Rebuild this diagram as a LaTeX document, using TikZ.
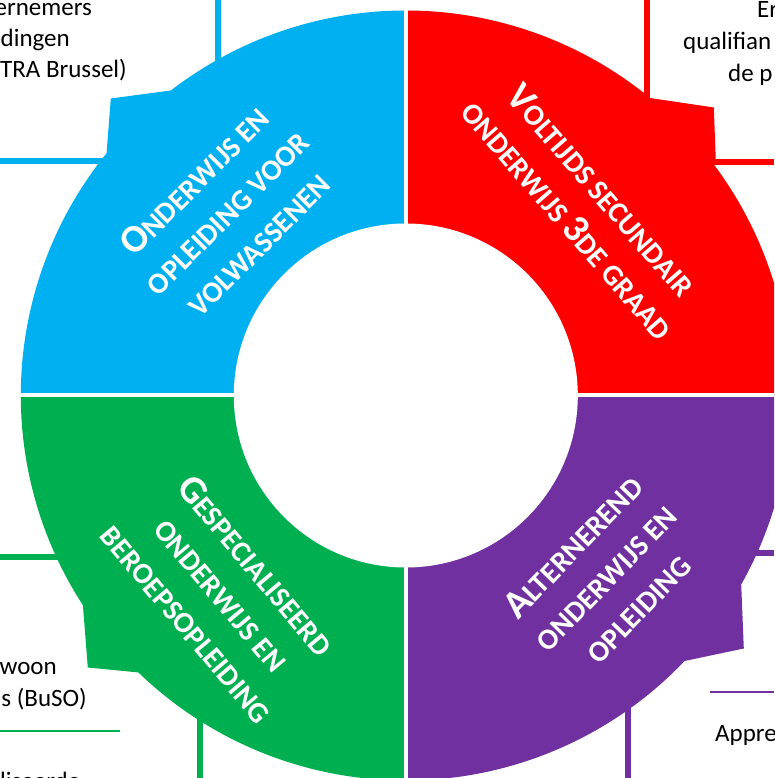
\documentclass[tikz,border=0pt]{standalone}
\usepackage{fontspec}
\setmainfont{Carlito}
\usepackage{tikz}

\definecolor{vblue}{HTML}{00B0F0}
\definecolor{vred}{HTML}{FF0000}
\definecolor{vgreen}{HTML}{00B050}
\definecolor{vpurple}{HTML}{7030A0}

\newcommand{\firstcap}[1]{{\fontsize{39}{45}\selectfont #1}}

\begin{document}
\begin{tikzpicture}[line cap=round,line join=round,x=1pt,y=1pt,
  border/.style={line width=5.5pt,line cap=butt},
  thinrule/.style={line width=1.2pt,line cap=butt},
  txt/.style={font=\fontsize{25}{31}\selectfont,inner sep=0pt},
  lbl/.style={text=white,font=\bfseries\fontsize{29.5}{45}\selectfont,align=center,inner sep=0pt}]
\useasboundingbox (0,0) rectangle (774,778);
\clip (0,0) rectangle (774,778);
% box borders
\draw[border,vblue] (0,617)-- (110,617);
\draw[border,vblue] (218,778)-- (218,700);
\draw[border,vred] (647,778)-- (647,670);
\draw[border,vred] (774,616)-- (705,616);
\draw[border,vgreen] (0,221)-- (70,221);
\draw[border,vgreen] (200,0)-- (200,70);
\draw[border,vpurple] (774,225)-- (745,225);
\draw[border,vpurple] (628,0)-- (628,80);
\draw[thinrule,vgreen] (0,47)-- (120,47);
\draw[thinrule,vpurple] (710,86)-- (774,86);
% ring
\begin{scope}[shift={(405.8,382.5)}]
\fill[vblue] (0,0)-- (90:385) arc (90:127.6:385)-- (-295,297)-- (141:385) arc (141:180:385)-- cycle;
\fill[vred] (0,0)-- (0:385) arc (0:37:385)-- (310,235)-- (308,288)-- (50.6:385) arc (50.6:90:385)-- cycle;
\fill[vgreen] (0,0)-- (180:385) arc (180:213:385)-- (-318,-272)-- (226:385) arc (226:270:385)-- cycle;
\fill[vpurple] (0,0)-- (270:385) arc (270:316.4:385)-- (338,-253)-- (330.6:385) arc (330.6:360:385)-- cycle;
\draw[white,line width=4pt,line cap=butt] (0,-390)-- (0,390);
\draw[white,line width=4pt,line cap=butt] (-390,0)-- (390,0);
\fill[white] (0,0) circle (172);
\end{scope}
% labels
\node[lbl,rotate=45] (volw) at (226,566) {\firstcap{O}NDERWIJS EN\\OPLEIDING VOOR\\VOLWASSENEN};
\node[lbl,rotate=-49] (vso) at (585,573) {\firstcap{V}OLTIJDS SECUNDAIR\\ONDERWIJS \firstcap{3}DE GRAAD};
\node[lbl,rotate=-50] (buso) at (222,184) {\firstcap{G}ESPECIALISEERD\\ONDERWIJS EN\\BEROEPSOPLEIDING};
\node[lbl,rotate=46] (duaal) at (605,201) {\firstcap{A}LTERNEREND\\ONDERWIJS EN\\OPLEIDING};
% cut texts
\node[txt,anchor=base east] (tl1) at (92,762) {ernemers};
\node[txt,anchor=base east] (tl2) at (70,731) {dingen};
\node[txt,anchor=base east] (tl3) at (127,700) {TRA Brussel)};
\node[txt,anchor=base west] (tr1) at (757,760) {Er};
\node[txt,anchor=base west] (tr2) at (683,728) {qualifian};
\node[txt,anchor=base west] (tr3) at (728,696) {de p};
\node[txt,anchor=base east] (bl1) at (57,103) {woon};
\node[txt,anchor=base east] (bl2) at (87,71) {s (BuSO)};
\node[txt,anchor=base west] (bl3) at (0,-11) {liseerde};
\node[txt,anchor=base west] (br1) at (715,36) {Appre};
\end{tikzpicture}
\end{document}
